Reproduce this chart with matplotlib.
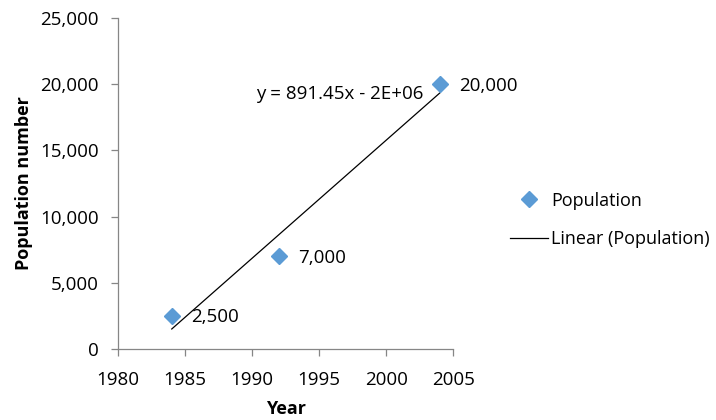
import numpy as np
import matplotlib.pyplot as plt
from matplotlib.ticker import FuncFormatter

# survey data
years = [1984, 1992, 2004]
population = [2500, 7000, 20000]
point_labels = ["2,500", "7,000", "20,000"]

plt.rcParams['font.family'] = ['Open Sans', 'DejaVu Sans']
plt.rcParams['font.size'] = 13.5

fig = plt.figure(figsize=(7.16, 4.2), dpi=100)
ax = fig.add_axes([0.165, 0.169, 0.468, 0.788])

ax.plot(years, population, linestyle='none', marker='D', markersize=8,
        color='#5B9BD5', label='Population', zorder=3)

# least squares trend line over the data range
slope, intercept = np.polyfit(years, population, 1)
xs = np.array([min(years), max(years)])
ax.plot(xs, slope * xs + intercept, color='black', linewidth=0.9,
        label='Linear (Population)', zorder=2)

for x, y, txt in zip(years, population, point_labels):
    ax.annotate(txt, (x, y), xytext=(14, -1), textcoords='offset points',
                ha='left', va='center')

ax.annotate("y = %.2fx - 2E+06" % slope, (years[-1], population[-1]),
            xytext=(-12, -7), textcoords='offset points',
            ha='right', va='center')

ax.set_xlim(1980, 2005)
ax.set_ylim(0, 25000)
ax.set_xticks(range(1980, 2006, 5))
ax.set_yticks(range(0, 25001, 5000))
ax.yaxis.set_major_formatter(FuncFormatter(lambda v, p: f"{int(v):,}"))

for side in ['top', 'right']:
    ax.spines[side].set_visible(False)
for side in ['left', 'bottom']:
    ax.spines[side].set_color('#868686')
    ax.spines[side].set_linewidth(0.9)
ax.tick_params(direction='out', length=5, width=0.9, color='#868686',
               labelsize=13.5)
ax.tick_params(axis='y', pad=9)
ax.tick_params(axis='x', pad=11)

ax.set_xlabel('Year', fontweight='bold', fontsize=13, labelpad=8)
ax.set_ylabel('Population number', fontweight='bold', fontsize=13, labelpad=5)

fig.legend(loc='center left', bbox_to_anchor=(0.69, 0.476), frameon=False,
           fontsize=13, handlelength=2.1, handletextpad=0.15,
           labelspacing=1.15)

fig.savefig('out.png', dpi=100)
